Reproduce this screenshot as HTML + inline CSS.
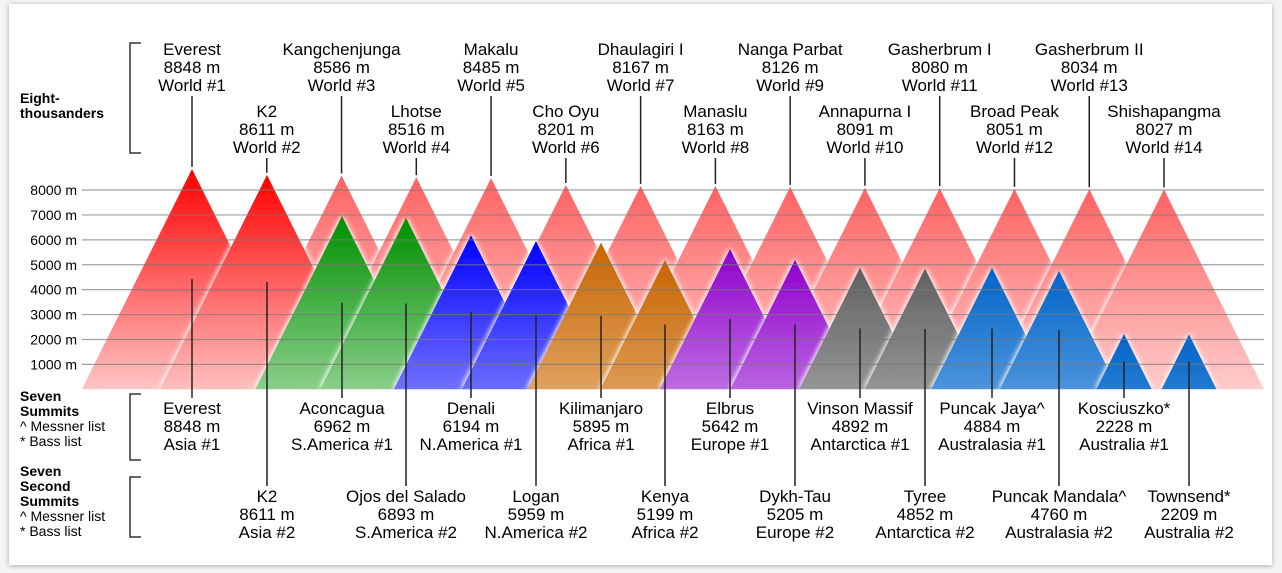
<!DOCTYPE html>
<html><head><meta charset="utf-8"><style>
html,body{margin:0;padding:0;background:#f4f4f4;width:1282px;height:573px;overflow:hidden}
.card{position:absolute;left:9px;top:4px;width:1263px;height:561px;background:#fff;box-shadow:0 1px 5px rgba(0,0,0,.3)}
svg{position:absolute;left:0;top:0}
text{font-family:"Liberation Sans",Arial,sans-serif;fill:#000}
</style></head><body>
<div class="card"></div>
<svg id="s" width="1282" height="573" xmlns="http://www.w3.org/2000/svg">
<defs>
<filter id="glow" x="-20%" y="-20%" width="140%" height="140%">
<feGaussianBlur in="SourceAlpha" stdDeviation="3" result="b"/>
<feFlood flood-color="#fff" flood-opacity="0.9"/>
<feComposite in2="b" operator="in" result="g"/>
<feMerge><feMergeNode in="g"/><feMergeNode in="g"/><feMergeNode in="SourceGraphic"/></feMerge>
</filter>
</defs>
<g id="back"></g><g id="front"></g><g id="grid"></g><g id="lbl"></g>
</svg>
<script>
var NS="http://www.w3.org/2000/svg",s=document.getElementById('s'),defs=s.querySelector('defs');
function el(p,t,a,txt){var e=document.createElementNS(NS,t);for(var k in a)e.setAttribute(k,a[k]);if(txt!==undefined)e.textContent=txt;p.appendChild(e);return e;}
var B=389.3,K=0.02491,gid=0;
function tri(g,x,h,c1,c2){var H=h*K,py=B-H;var id='g'+(gid++);
var lg=el(defs,'linearGradient',{id:id,gradientUnits:'userSpaceOnUse',x1:0,y1:py,x2:0,y2:py+220});
el(lg,'stop',{offset:0,'stop-color':c1});el(lg,'stop',{offset:1,'stop-color':c2});
el(g,'polygon',{points:(x-H/2)+','+B+' '+x+','+py+' '+(x+H/2)+','+B,fill:'url(#'+id+')',filter:'url(#glow)'});return py;}
var back=document.getElementById('back'),front=document.getElementById('front'),grid=document.getElementById('grid'),lbl=document.getElementById('lbl');
var E=[["Everest",8848],["K2",8611],["Kangchenjunga",8586],["Lhotse",8516],["Makalu",8485],["Cho Oyu",8201],["Dhaulagiri I",8167],["Manaslu",8163],["Nanga Parbat",8126],["Annapurna I",8091],["Gasherbrum I",8080],["Broad Peak",8051],["Gasherbrum II",8034],["Shishapangma",8027]];
E.forEach(function(m,i){var x=192+i*74.77;var py=B-m[1]*K;
if(i>=2)tri(back,x,m[1],'#ff6262','#ffd6d6');
var row=i%2,y0=row?117:55;
[m[0],m[1]+' m','World #'+(i+1)].forEach(function(t,j){el(lbl,'text',{x:x,y:y0+j*18,'text-anchor':'middle','font-size':17},t);});
el(lbl,'line',{x1:x,x2:x,y1:row?158:96,y2:py-2,stroke:'#222','stroke-width':1.5});});
var S=[["Everest",8848,"Asia #1",192,'#ff0000','#ffc4c4'],["K2",8611,"Asia #2",267,'#ff0000','#ffc4c4'],
["Aconcagua",6962,"S.America #1",342,'#009000','#b0e0b0'],["Ojos del Salado",6893,"S.America #2",406,'#009000','#b0e0b0'],
["Denali",6194,"N.America #1",471,'#0000ff','#a0a0ff'],["Logan",5959,"N.America #2",536,'#0000ff','#a0a0ff'],
["Kilimanjaro",5895,"Africa #1",601,'#c86400','#ecc090'],["Kenya",5199,"Africa #2",665,'#c86400','#ecc090'],
["Elbrus",5642,"Europe #1",730,'#9000cc','#d8a8f0'],["Dykh-Tau",5205,"Europe #2",795,'#9000cc','#d8a8f0'],
["Vinson Massif",4892,"Antarctica #1",860,'#606060','#c0c0c0'],["Tyree",4852,"Antarctica #2",925,'#606060','#c0c0c0'],
["Puncak Jaya^",4884,"Australasia #1",992,'#0064c8','#8cbcec'],["Puncak Mandala^",4760,"Australasia #2",1059,'#0064c8','#8cbcec'],
["Kosciuszko*",2228,"Australia #1",1124,'#0064c8','#8cbcec'],["Townsend*",2209,"Australia #2",1189,'#0064c8','#8cbcec']];
S.forEach(function(m,i){var H=m[1]*K;tri(front,m[3],m[1],m[4],m[5]);
var row=i%2,y0=row?502:414;
[m[0],m[1]+' m',m[2]].forEach(function(t,j){el(lbl,'text',{x:m[3],y:y0+j*18,'text-anchor':'middle','font-size':17},t);});
el(lbl,'line',{x1:m[3],x2:m[3],y1:B-H/2,y2:row?486:398,stroke:'#222','stroke-width':1.5});});
for(var k=1;k<=8;k++){var y=B-k*1000*K;el(grid,'line',{x1:82,x2:1264,y1:y,y2:y,stroke:'#777','stroke-opacity':0.7,'stroke-width':1.2});
el(lbl,'text',{x:77,y:y+5,'text-anchor':'end','font-size':14},k*1000+' m');}
function br(y1,y2){el(lbl,'path',{d:'M141 '+y1+'H130V'+y2+'H141',fill:'none',stroke:'#333','stroke-width':1.5});}
br(43,153);br(394,460);br(477,537);
function tl(t,x,y,b){el(lbl,'text',{x:x,y:y,'font-size':14,'font-weight':b?'bold':'normal'},t);}
tl('Eight-',20,103,1);tl('thousanders',20,118,1);
tl('Seven',20,401,1);tl('Summits',20,416,1);tl('^  Messner list',20,431);tl('*  Bass list',20,446);
tl('Seven',20,476,1);tl('Second',20,491,1);tl('Summits',20,506,1);tl('^  Messner list',20,521);tl('*  Bass list',20,536);
</script>
</body></html>
